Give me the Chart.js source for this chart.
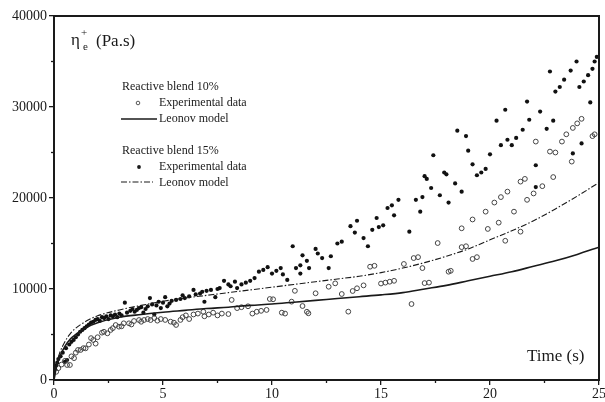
<!DOCTYPE html>
<html><head><meta charset="utf-8">
<script src="https://cdn.jsdelivr.net/npm/chart.js@4"></script>
<style>html,body{margin:0;padding:0;background:#fff}#wrap{width:605px;height:402px;position:relative}</style>
</head><body><div id="wrap"><canvas id="c" width="605" height="402"></canvas></div>
<script>
// ---- data ----
const modelTime = [0,0.1,0.25,0.5,0.75,1,1.5,2,3,4,5,6,7,8,9,10,11,12,13,14,15,16,17,18,19,20,21,22,23,24,25];
const leonov10  = [0,1300,2500,3700,4500,5000,5800,6300,6900,7200,7450,7650,7850,8000,8200,8350,8550,8750,8950,9150,9350,9600,10000,10400,10900,11400,11900,12500,13100,13800,14600];
const leonov15  = [0,1600,2900,4200,5100,5700,6500,7050,7700,8200,8650,9000,9300,9600,9900,10200,10500,10800,11100,11400,11800,12300,12900,13600,14400,15400,16400,17500,18800,20200,21700];

const exp10Time = [0.1,0.2,0.35,0.5,0.6,0.73,0.8,0.92,1.0,1.1,1.22,1.35,1.45,1.6,1.7,1.8,1.91,2.0,2.2,2.29,2.45,2.6,2.7,2.83,2.98,3.1,3.2,3.44,3.55,3.67,3.9,4.0,4.13,4.3,4.43,4.6,4.74,4.9,5.1,5.35,5.5,5.6,5.8,5.9,6.05,6.2,6.4,6.6,6.85,6.9,7.1,7.3,7.5,7.7,8.0,8.15,8.4,8.6,8.9,9.1,9.3,9.5,9.75,9.9,10.05,10.45,10.6,10.9,11.05,11.4,11.6,11.67,12.0,12.6,12.9,13.2,13.5,13.7,13.9,14.2,14.5,14.7,15.0,15.2,15.4,15.6,16.05,16.4,16.5,16.7,16.9,17.0,17.2,17.6,18.1,18.2,18.7,18.7,18.9,19.2,19.2,19.4,19.9,19.8,20.2,20.4,20.5,20.7,20.8,21.1,21.4,21.4,21.6,21.7,22.0,22.1,22.4,22.75,22.9,23.0,23.3,23.5,23.75,23.8,24.0,24.2,24.7,24.8];
const exp10Visc = [900,1300,1700,2100,1650,1650,2600,2400,3000,3300,3300,3500,3480,3900,4600,4400,4000,4700,5200,5300,5130,5500,5700,6040,5860,5900,6230,6230,6100,6480,6590,6400,6590,6700,6590,6800,6520,6700,6600,6410,6300,6050,6600,6900,7100,6700,7200,7300,7500,7000,7200,7400,7100,7300,7250,8800,7900,8000,8100,7300,7500,7600,7700,8900,8870,7400,7300,8610,9800,8130,7500,7330,9530,10250,10620,9450,7510,9780,10080,10400,12450,12550,10600,10700,10800,10900,12750,8350,13400,13500,12300,10650,10700,15050,11900,12000,14600,16670,14700,17640,13300,13500,16600,18500,19500,17290,20100,15300,20700,18500,16300,21800,22100,19800,20500,26200,21300,25100,22300,25000,26200,27000,24000,27700,28200,28700,26800,27000];

const exp15Time = [0.05,0.1,0.15,0.2,0.3,0.4,0.5,0.55,0.6,0.7,0.8,0.9,1.0,1.1,1.2,1.3,1.4,1.5,1.6,1.7,1.8,1.9,2.0,2.1,2.2,2.3,2.4,2.5,2.6,2.7,2.8,2.9,3.0,3.1,3.25,3.35,3.5,3.6,3.7,3.8,3.9,4.0,4.1,4.2,4.3,4.4,4.5,4.6,4.7,4.8,4.9,5.0,5.1,5.2,5.3,5.4,5.6,5.8,5.9,6.0,6.2,6.4,6.5,6.7,6.8,6.9,7.0,7.2,7.4,7.5,7.6,7.8,8.0,8.1,8.3,8.4,8.6,8.8,9.0,9.2,9.4,9.6,9.8,10.0,10.2,10.4,10.5,10.7,10.95,11.1,11.3,11.4,11.6,11.7,11.3,12.0,12.1,12.3,12.6,12.7,13.0,13.2,13.6,13.8,13.9,14.2,14.4,14.6,14.8,14.9,15.1,15.3,15.5,15.6,15.8,16.3,16.6,16.8,16.9,17.0,17.1,17.3,17.4,17.7,17.9,18.0,18.1,18.4,18.5,18.7,18.9,19.0,19.2,19.4,19.6,19.8,20.0,20.3,20.5,20.7,20.8,21.0,21.2,21.5,21.7,21.8,22.1,22.1,22.3,22.6,22.75,22.9,23.0,23.2,23.4,23.7,23.8,23.97,24.1,24.2,24.3,24.5,24.6,24.7,24.8,24.9];
const exp15Visc = [1200,1600,1900,2300,2600,3000,2000,3500,2200,3900,4200,4400,4700,5000,5300,5500,5700,5900,6100,6300,6400,6600,6700,6500,6900,6800,7000,6700,7100,7000,7200,6900,7300,7100,8500,7400,7600,7800,7500,7700,7900,8000,7400,7800,8100,9000,8300,7200,8200,8600,7900,8500,9100,8100,8400,8700,8800,8900,9300,9000,9200,9900,9400,9500,9700,8600,9800,9900,9100,10000,10100,10900,10500,10300,10800,10100,10500,10700,10900,11200,11900,12100,12400,11700,12000,12300,11600,11000,14700,12300,12600,13700,13100,12300,11700,14400,13900,13400,12300,13600,15000,15200,16900,16200,17500,15600,14700,16500,17800,16800,17000,18900,19200,18100,19800,16300,19800,18500,20100,22400,22100,21100,24700,20300,22800,22600,19500,21600,27400,20700,26800,25200,23700,22500,22800,23200,24800,28500,25800,29700,26400,25800,26600,27500,30600,28600,23600,21200,29500,27600,33900,28500,31700,32200,33000,34000,24900,35000,32200,26000,32800,33500,30500,34200,35000,35500];

const yTickValues = [0,10000,20000,30000,40000];
const yMinorValues = [5000,15000,25000,35000];
const xTickValues = [0,5,10,15,20,25];
const xMinorValues = [2.5,7.5,12.5,17.5,22.5];

// ---- build ----
const pts = (xs, ys) => xs.map((v, i) => ({x: v, y: ys[i]}));
const INK = '#1a1a1a';
const SERIF = '"Liberation Serif", "Times New Roman", serif';

const overlay = {
  id: 'overlay',
  afterDraw(chart) {
    const {ctx, chartArea: a, scales: {x, y}} = chart;
    ctx.save();
    ctx.strokeStyle = INK; ctx.fillStyle = INK;
    ctx.lineWidth = 2;
    ctx.strokeRect(a.left, a.top, a.right - a.left, a.bottom - a.top);
    ctx.lineWidth = 1.3;
    const seg = (x1, y1, x2, y2) => { ctx.beginPath(); ctx.moveTo(x1, y1); ctx.lineTo(x2, y2); ctx.stroke(); };
    yMinorValues.forEach(v => { const p = y.getPixelForValue(v); seg(a.left - 3, p, a.left, p); });
    xMinorValues.forEach(v => { const p = x.getPixelForValue(v); seg(p, a.bottom, p, a.bottom + 3); });

    // axis titles
    ctx.textBaseline = 'alphabetic'; ctx.textAlign = 'left';
    ctx.font = '17px ' + SERIF;
    ctx.fillText('η', 71, 45);
    ctx.font = '11px ' + SERIF;
    ctx.fillText('+', 81, 36);
    ctx.fillText('e', 83, 50);
    ctx.font = '17px ' + SERIF;
    ctx.fillText('(Pa.s)', 96, 46);
    ctx.fillText('Time (s)', 527, 361);

    // legend
    ctx.font = '12px ' + SERIF;
    ctx.fillText('Reactive blend 10%', 122, 90);
    ctx.fillText('Experimental data', 159, 106);
    ctx.fillText('Leonov model', 159, 122);
    ctx.fillText('Reactive blend 15%', 122, 154);
    ctx.fillText('Experimental data', 159, 170);
    ctx.fillText('Leonov model', 159, 186);
    ctx.lineWidth = 0.9; ctx.strokeStyle = '#444';
    ctx.beginPath(); ctx.arc(138, 103, 1.8, 0, Math.PI * 2); ctx.stroke();
    ctx.fillStyle = INK;
    ctx.beginPath(); ctx.arc(139, 167, 1.9, 0, Math.PI * 2); ctx.fill();
    ctx.strokeStyle = INK; ctx.lineWidth = 1.6;
    seg(121, 119, 157, 119);
    ctx.lineWidth = 1.1; ctx.setLineDash([6, 2, 1.5, 2]);
    seg(121, 182, 153, 182);
    ctx.restore();
  }
};

new Chart(document.getElementById('c'), {
  type: 'scatter',
  data: {
    datasets: [
      { label: 'Leonov model 10%', type: 'line', data: pts(modelTime, leonov10), showLine: true,
        borderColor: INK, borderWidth: 1.6, pointRadius: 0, cubicInterpolationMode: 'monotone', fill: false },
      { label: 'Leonov model 15%', type: 'line', data: pts(modelTime, leonov15), showLine: true,
        borderColor: INK, borderWidth: 1.1, borderDash: [6, 2, 1.5, 2], pointRadius: 0, cubicInterpolationMode: 'monotone', fill: false },
      { label: 'Experimental data 10%', data: pts(exp10Time, exp10Visc), pointStyle: 'circle', pointRadius: 2.4,
        borderColor: '#444', borderWidth: 1, backgroundColor: 'rgba(0,0,0,0)' },
      { label: 'Experimental data 15%', data: pts(exp15Time, exp15Visc), pointStyle: 'circle', pointRadius: 2.1,
        borderWidth: 0, backgroundColor: '#111' }
    ]
  },
  options: {
    responsive: false, animation: false, devicePixelRatio: 1,
    layout: { padding: { left: 0, top: 16, right: 6, bottom: 0 } },
    plugins: { legend: { display: false }, tooltip: { enabled: false } },
    scales: {
      x: {
        type: 'linear', min: 0, max: 25,
        afterBuildTicks: s => { s.ticks = xTickValues.map(v => ({value: v})); },
        afterFit: s => { s.height = 22; s.paddingLeft = 0; s.paddingRight = 0; },
        ticks: { font: { family: SERIF, size: 14 }, color: INK, padding: 1, maxRotation: 0, callback: v => String(v) },
        grid: { drawOnChartArea: false, drawTicks: true, tickLength: 5, color: INK, lineWidth: 1.3 },
        border: { display: false }
      },
      y: {
        type: 'linear', min: 0, max: 40000,
        afterBuildTicks: s => { s.ticks = yTickValues.map(v => ({value: v})); },
        afterFit: s => { s.width = 54; s.paddingTop = 0; s.paddingBottom = 0; },
        ticks: { font: { family: SERIF, size: 14 }, color: INK, padding: 2, callback: v => String(v) },
        grid: { drawOnChartArea: false, drawTicks: true, tickLength: 5, color: INK, lineWidth: 1.3 },
        border: { display: false }
      }
    }
  },
  plugins: [overlay]
});
</script></body></html>
